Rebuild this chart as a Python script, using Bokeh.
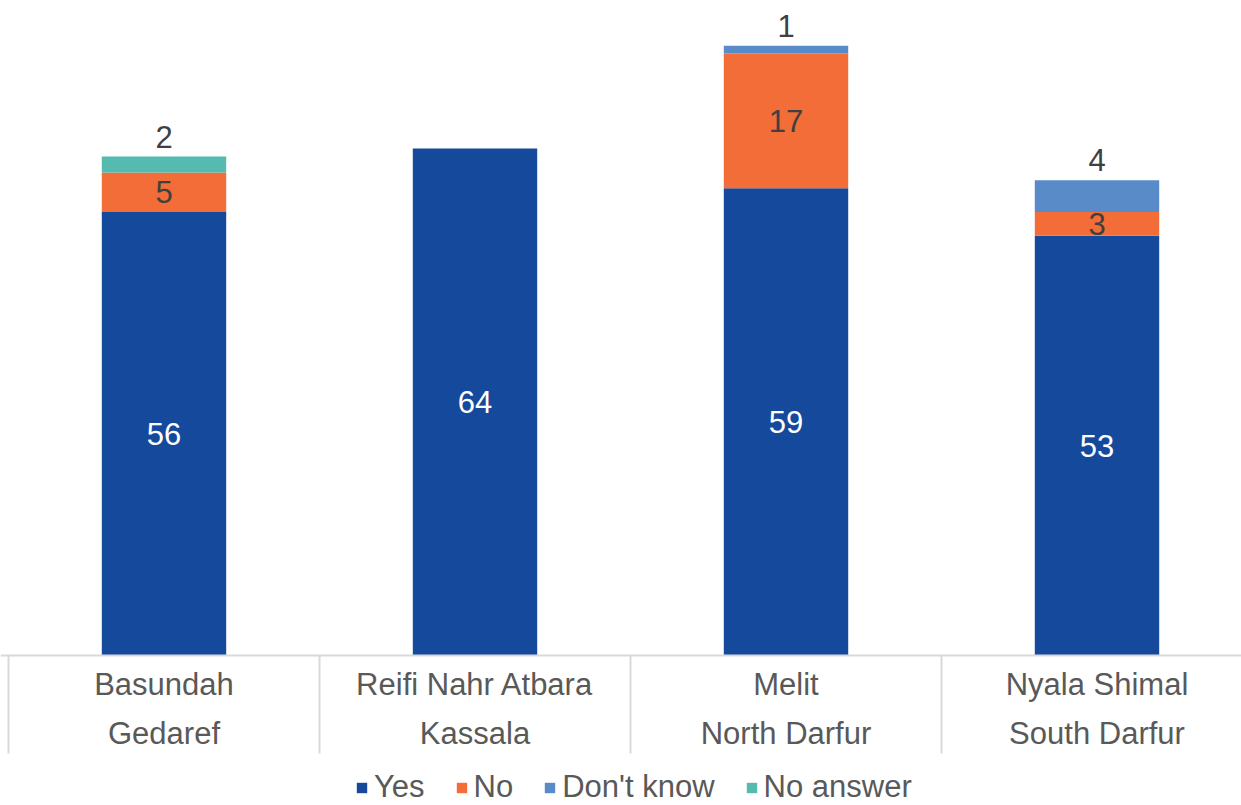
from bokeh.plotting import figure
from bokeh.models import ColumnDataSource, Range1d, Span, Legend, LegendItem
from bokeh.core.properties import value
from bokeh.embed import file_html
from bokeh.resources import INLINE

# Survey responses per locality
districts = ["Basundah", "Reifi Nahr Atbara", "Melit", "Nyala Shimal"]
states = ["Gedaref", "Kassala", "North Darfur", "South Darfur"]
yes = [56, 64, 59, 53]
no = [5, 0, 17, 3]
dont_know = [0, 0, 1, 4]
no_answer = [2, 0, 0, 0]

series_names = ["Yes", "No", "Don't know", "No answer"]
series_values = [yes, no, dont_know, no_answer]
colors = ["#15499C", "#F26D37", "#5A8BC9", "#55BBB1"]

FONT = "Liberation Sans"
FS = "31px"
W, H = 1241, 805
CAT_PX = 311.0          # pixel width of one category
LEFT_PX = 8.0           # left edge of first category
BASE_PX = 655.0         # baseline position from top
UNIT_PX = 7.92          # pixels per count

x_range = Range1d(-LEFT_PX / CAT_PX, (W - LEFT_PX) / CAT_PX)
y_range = Range1d(-(H - BASE_PX) / UNIT_PX, BASE_PX / UNIT_PX)

p = figure(width=W, height=H, x_range=x_range, y_range=y_range,
           output_backend="svg", toolbar_location=None,
           x_axis_type=None, y_axis_type=None, min_border=0,
           outline_line_color=None, background_fill_color="white",
           border_fill_color="white")
p.grid.visible = False

xs = [i + 0.5 for i in range(len(districts))]
data = {"x": xs}
for name, vals in zip(series_names, series_values):
    data[name] = vals
src = ColumnDataSource(data)

renderers = p.vbar_stack(series_names, x="x", width=0.4, source=src,
                         color=colors, line_color=None)

# baseline and category separators
p.add_layout(Span(location=0, dimension="width", line_color="#D9D9D9",
                  line_width=2))
sep_x = list(range(len(districts) + 1))
p.segment(x0=sep_x, y0=[0] * len(sep_x), x1=sep_x,
          y1=[-98 / UNIT_PX] * len(sep_x), line_color="#D9D9D9", line_width=2)

# category labels (two lines)
p.text(x=xs, y=[-29 / UNIT_PX] * len(xs), text=districts,
       text_font=value(FONT), text_font_size=FS, text_color="#595959",
       text_align="center", text_baseline="middle")
p.text(x=xs, y=[-78 / UNIT_PX] * len(xs), text=states,
       text_font=value(FONT), text_font_size=FS, text_color="#595959",
       text_align="center", text_baseline="middle")

# value labels: inside segments, topmost thin segment above the bar
in_x, in_y, in_t, in_c = [], [], [], []
top_x, top_y, top_t = [], [], []
for i, x in enumerate(xs):
    vals = [s[i] for s in series_values]
    top_idx = max(k for k, v in enumerate(vals) if v > 0)
    cum = 0
    for k, v in enumerate(vals):
        if v > 0:
            if k == top_idx and k > 0:
                top_x.append(x)
                top_y.append(cum + v)
                top_t.append(str(v))
            else:
                in_x.append(x)
                in_y.append(cum + v / 2)
                in_t.append(str(v))
                in_c.append("white" if k == 0 else "#404040")
        cum += v

p.text(x=in_x, y=in_y, text=in_t, text_color=in_c, text_font=value(FONT),
       text_font_size=FS, text_align="center", text_baseline="middle")
p.text(x=top_x, y=top_y, text=top_t, text_color="#404040",
       text_font=value(FONT), text_font_size=FS, text_align="center",
       text_baseline="middle", y_offset=-20)

legend = Legend(items=[LegendItem(label=n, renderers=[r])
                       for n, r in zip(series_names, renderers)],
                orientation="horizontal", location=(355, 0),
                label_text_font=FONT, label_text_font_size=FS,
                label_text_color="#595959", glyph_width=13, glyph_height=13,
                label_standoff=6, spacing=30, padding=0, margin=0,
                border_line_color=None, background_fill_alpha=0)
p.add_layout(legend, "center")

open("out.html", "w").write(file_html(p, INLINE))
